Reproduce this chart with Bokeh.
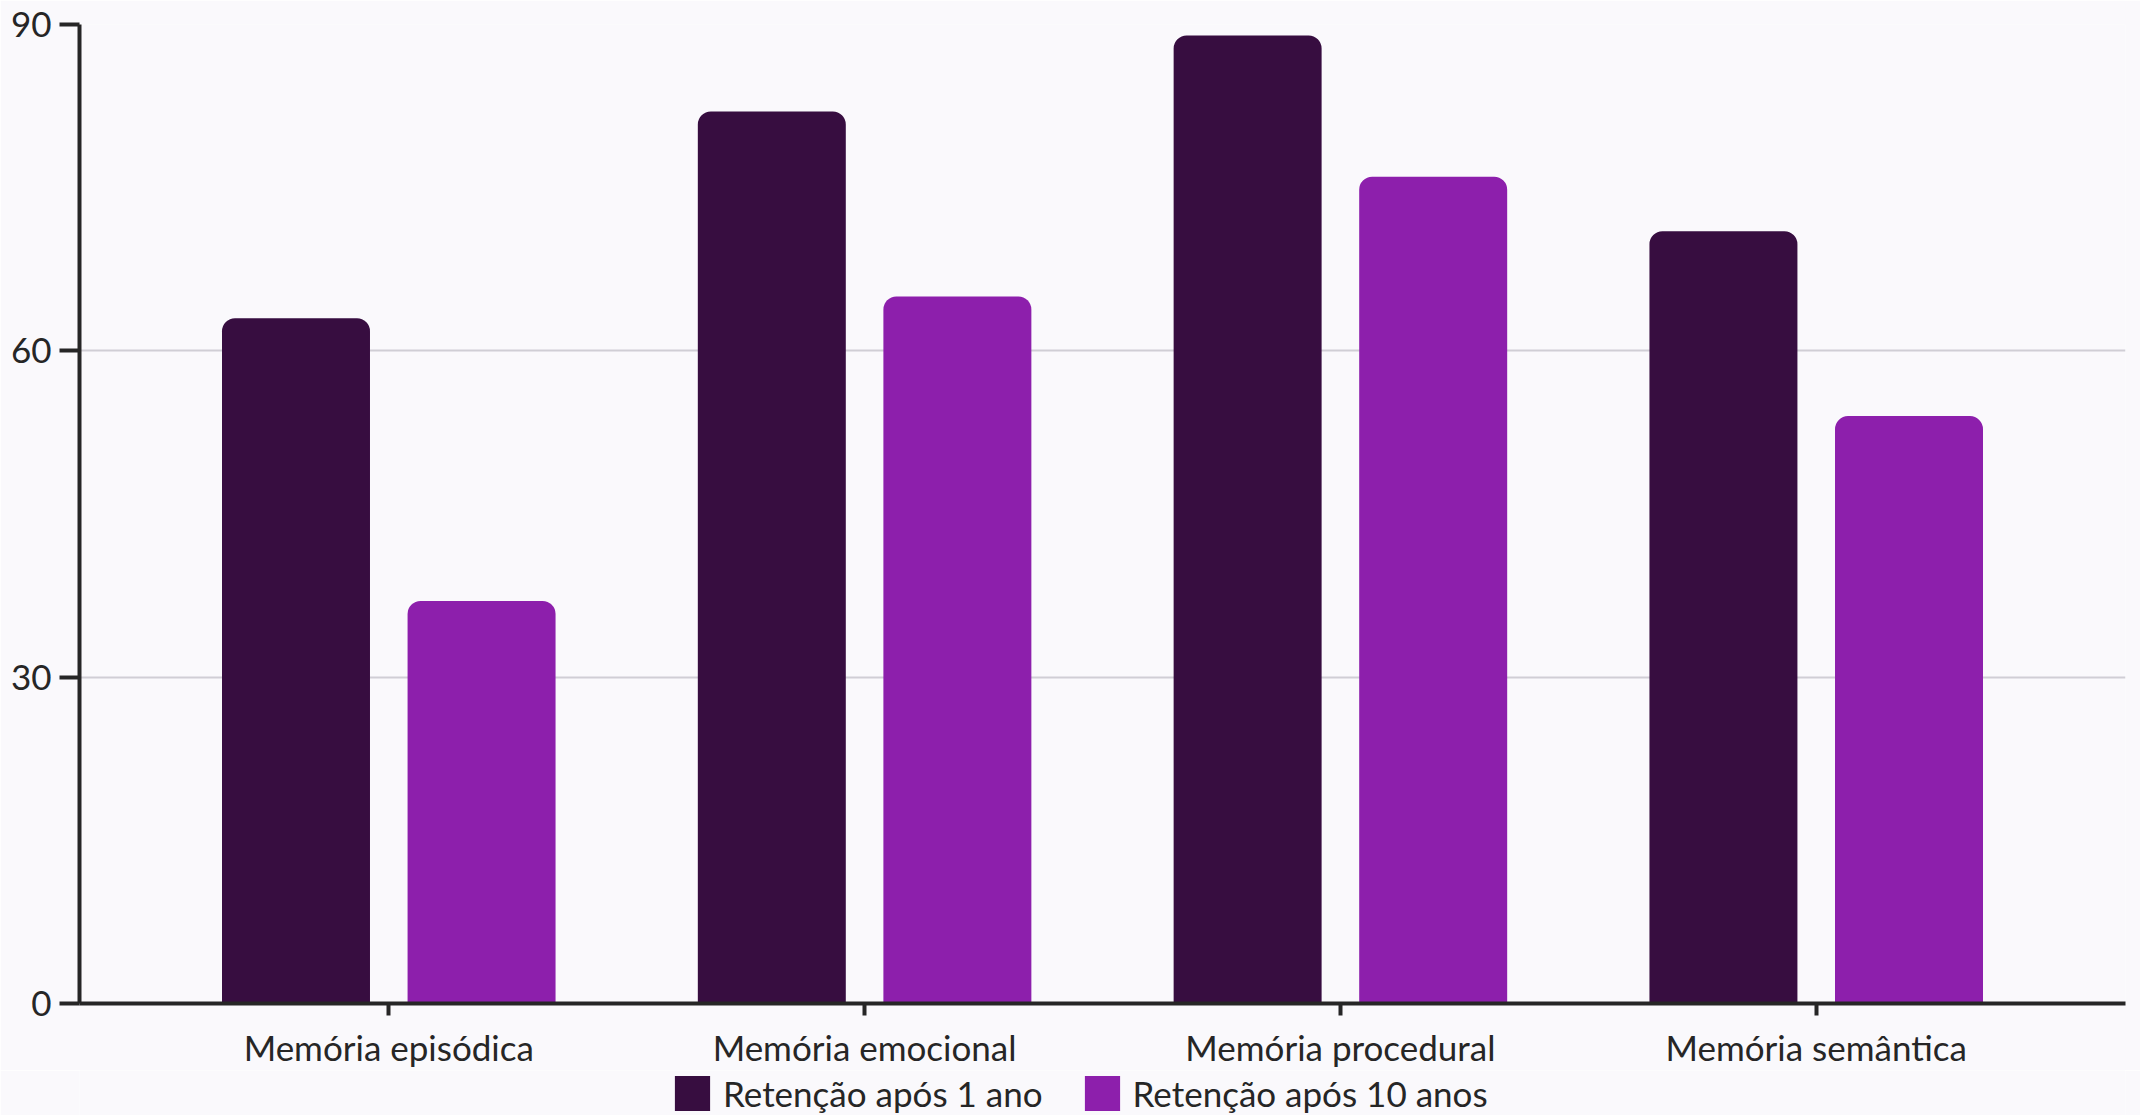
from bokeh.plotting import figure
from bokeh.layouts import column
from bokeh.models import ColumnDataSource, FactorRange, Legend, LegendItem, FixedTicker
from bokeh.transform import dodge
from bokeh.embed import file_html
from bokeh.resources import INLINE

categories = ["Memória episódica", "Memória emocional", "Memória procedural", "Memória semântica"]
retencao_1_ano = [63, 82, 89, 71]
retencao_10_anos = [37, 65, 76, 54]
series_names = ["Retenção após 1 ano", "Retenção após 10 anos"]
y_ticks = [0, 30, 60, 90]

DARK = "#370D40"
LIGHT = "#8D1FAC"
BG = "#FAF9FC"
AXIS = "#262626"
FONT = "Lato"
FS = "35px"

src = ColumnDataSource(dict(cat=categories, a=retencao_1_ano, b=retencao_10_anos))

p = figure(
    x_range=FactorRange(factors=categories, range_padding=0.075),
    y_range=(0, 90),
    width=2140, height=1070,
    min_border_left=79, min_border_right=15, min_border_top=24, min_border_bottom=63,
    output_backend="svg", toolbar_location=None,
    background_fill_color=BG, border_fill_color=BG,
)
p.outline_line_color = None

r1 = p.vbar(x=dodge("cat", -0.195, range=p.x_range), top="a", width=0.311, source=src,
            fill_color=DARK, line_color=None, border_radius=(13, 13, 0, 0))
r2 = p.vbar(x=dodge("cat", 0.195, range=p.x_range), top="b", width=0.311, source=src,
            fill_color=LIGHT, line_color=None, border_radius=(13, 13, 0, 0))

p.xgrid.grid_line_color = None
p.ygrid.grid_line_color = "#D0CED5"
p.ygrid.grid_line_width = 2
p.yaxis.ticker = FixedTicker(ticks=y_ticks)

for ax in (p.xaxis[0], p.yaxis[0]):
    ax.axis_line_color = AXIS
    ax.axis_line_width = 4
    ax.major_tick_line_color = AXIS
    ax.major_tick_line_width = 4
    ax.major_tick_in = 0
    ax.minor_tick_line_color = None
    ax.major_label_text_font = FONT
    ax.major_label_text_font_size = FS
    ax.major_label_text_color = AXIS

p.yaxis.major_tick_out = 20
p.yaxis.major_label_standoff = 8
p.xaxis.major_tick_out = 12
p.xaxis.major_label_standoff = 10

# Legend strip below the chart (zero-size proxy bars only carry the legend swatch style)
leg = figure(
    width=2140, height=45, x_range=(0, 1), y_range=(0, 1),
    min_border=0, x_axis_location=None, y_axis_location=None,
    output_backend="svg", toolbar_location=None,
    background_fill_color=BG, border_fill_color=BG,
)
leg.outline_line_color = None
leg.grid.visible = False
proxy = ColumnDataSource(dict(x=[0.5], top=[0]))
l1 = leg.vbar(x="x", top="top", width=0, source=proxy, fill_color=DARK, line_color=None)
l2 = leg.vbar(x="x", top="top", width=0, source=proxy, fill_color=LIGHT, line_color=None)

legend = Legend(
    items=[LegendItem(label=series_names[0], renderers=[l1]),
           LegendItem(label=series_names[1], renderers=[l2])],
    orientation="horizontal",
    location=(591, 0),
    padding=0, margin=0, spacing=37,
    glyph_width=44, glyph_height=44, label_standoff=9,
    label_text_font=FONT, label_text_font_size=FS, label_text_color=AXIS,
    border_line_color=None, background_fill_alpha=0,
)
leg.add_layout(legend, "center")

layout = column(p, leg, spacing=0)
open("out.html", "w").write(file_html(layout, INLINE))
